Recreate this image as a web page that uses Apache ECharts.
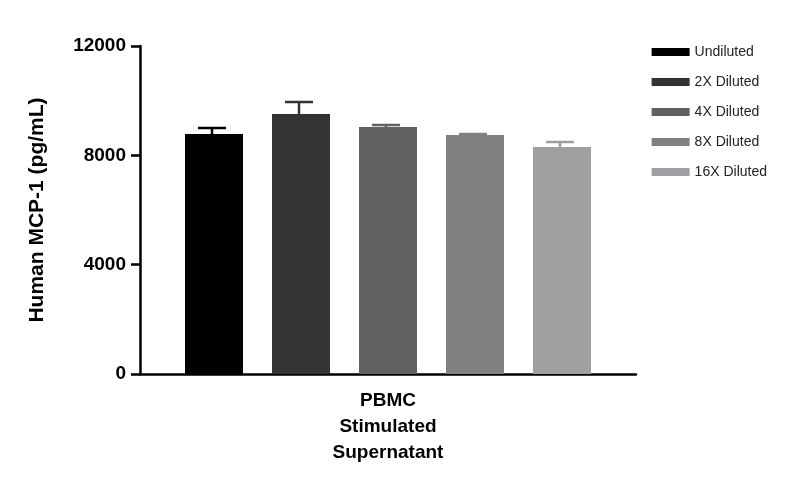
<!DOCTYPE html>
<html><head><meta charset="utf-8">
<script src="https://cdn.jsdelivr.net/npm/echarts@6/dist/echarts.min.js"></script>
<style>html,body{margin:0;background:#fff}#c{width:794px;height:500px}</style>
</head><body><div id="c"></div>
<script>
const category = ['PBMC\nStimulated\nSupernatant'];
const seriesNames = ['Undiluted','2X Diluted','4X Diluted','8X Diluted','16X Diluted'];
const means = [8780, 9512, 9037, 8744, 8305];
const errUpper = [9000, 9951, 9110, 8780, 8488];
const colors = ['#000000','#333333','#616161','#808080','#a0a0a3'];
const yTicks = [0, 4000, 8000, 12000];

const chart = echarts.init(document.getElementById('c'));
const bars = seriesNames.map((n,i)=>({
  name:n, type:'bar', xAxisIndex:0, yAxisIndex:0,
  data:[means[i]], barWidth:58, barGap:'50%',
  itemStyle:{color:colors[i]}
}));
chart.setOption({
  animation:false,
  legend:{right:22, top:40, orient:'vertical', itemWidth:38, itemHeight:8, itemGap:16,
    icon:'rect', textStyle:{fontFamily:'Liberation Sans', fontSize:14, color:'#222'},
    data:seriesNames},
  grid:[{left:140, top:46, width:496, height:328},
        {left:168.5, top:46, width:435, height:328}],
  xAxis:[{type:'category', gridIndex:0, data:category,
    axisLine:{lineStyle:{color:'#000', width:2.5}}, axisTick:{show:false},
    axisLabel:{fontFamily:'Liberation Sans', fontWeight:'bold', fontSize:19, color:'#000', lineHeight:26, margin:14}},
    {type:'category', gridIndex:1, data:seriesNames, show:false}],
  yAxis:[{type:'value', gridIndex:0, min:0, max:12000, interval:4000,
    name:'Human MCP-1 (pg/mL)', nameLocation:'middle', nameGap:92,
    nameTextStyle:{fontFamily:'Liberation Sans', fontWeight:'bold', fontSize:21, color:'#000'},
    axisLine:{show:true, lineStyle:{color:'#000', width:2.5}},
    axisTick:{show:true, length:9, lineStyle:{width:2.5, color:'#000'}},
    splitLine:{show:false},
    axisLabel:{fontFamily:'Liberation Sans', fontWeight:'bold', fontSize:19, color:'#000', margin:14,
      formatter:v=>yTicks.includes(v)?String(v):''}},
    {type:'value', gridIndex:1, min:0, max:12000, show:false}],
  series:[...bars, {
    type:'custom', xAxisIndex:1, yAxisIndex:1, silent:true,
    data:seriesNames.map((n,i)=>[i, means[i], errUpper[i]]),
    renderItem:(p,api)=>{
      const b=api.coord([api.value(0), api.value(1)]);
      const t=api.coord([api.value(0), api.value(2)]);
      const c=colors[api.value(0)];
      const s={stroke:c, lineWidth:2.5};
      return {type:'group', children:[
        {type:'line', shape:{x1:b[0],y1:b[1],x2:t[0],y2:t[1]}, style:s},
        {type:'line', shape:{x1:t[0]-14,y1:t[1],x2:t[0]+14,y2:t[1]}, style:s}]};
    }
  }]
});
</script></body></html>
